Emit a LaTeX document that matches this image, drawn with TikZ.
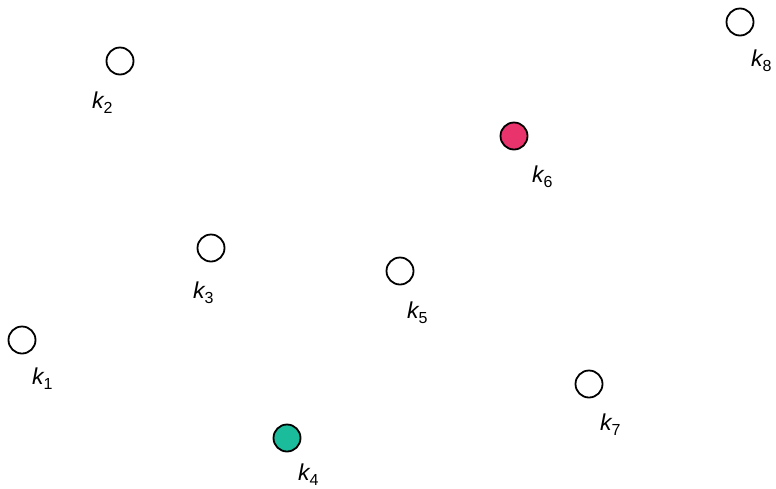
\documentclass[tikz,border=0pt]{standalone}
\usepackage{fontspec}
\setmainfont{Liberation Sans}
\usepackage{tikz}

% key name k_i, italic k with an upright index
\newcommand{\keyname}[1]{{\fontsize{23}{26}\selectfont\itshape k}\raisebox{-5pt}{\fontsize{16}{18}\selectfont #1}}

\tikzset{
  keypoint/.style={circle,draw=black,line width=1.8pt,minimum size=27pt,inner sep=0pt,fill=white},
  keylabel/.style={anchor=base west,inner sep=0pt}
}

\begin{document}
\begin{tikzpicture}[x=1pt,y=-1pt]
\definecolor{queryteal}{RGB}{26,188,156}
\definecolor{querypink}{RGB}{232,51,109}
\useasboundingbox (0,0) rectangle (776,488);
% the eight keys
\node[keypoint] (k1) at (22,340) {};
\node[keypoint] (k2) at (120,61) {};
\node[keypoint] (k3) at (211,248) {};
\node[keypoint,fill=queryteal] (k4) at (287,438) {};
\node[keypoint] (k5) at (400,271) {};
\node[keypoint,fill=querypink] (k6) at (514,136) {};
\node[keypoint] (k7) at (589,384) {};
\node[keypoint] (k8) at (740,22) {};
% their names
\node[keylabel] (l1) at (32,384) {\keyname{1}};
\node[keylabel] (l2) at (92,108) {\keyname{2}};
\node[keylabel] (l3) at (193,298) {\keyname{3}};
\node[keylabel] (l4) at (298,480) {\keyname{4}};
\node[keylabel] (l5) at (407,318) {\keyname{5}};
\node[keylabel] (l6) at (532,182) {\keyname{6}};
\node[keylabel] (l7) at (600,430) {\keyname{7}};
\node[keylabel] (l8) at (751,66) {\keyname{8}};
\end{tikzpicture}
\end{document}
